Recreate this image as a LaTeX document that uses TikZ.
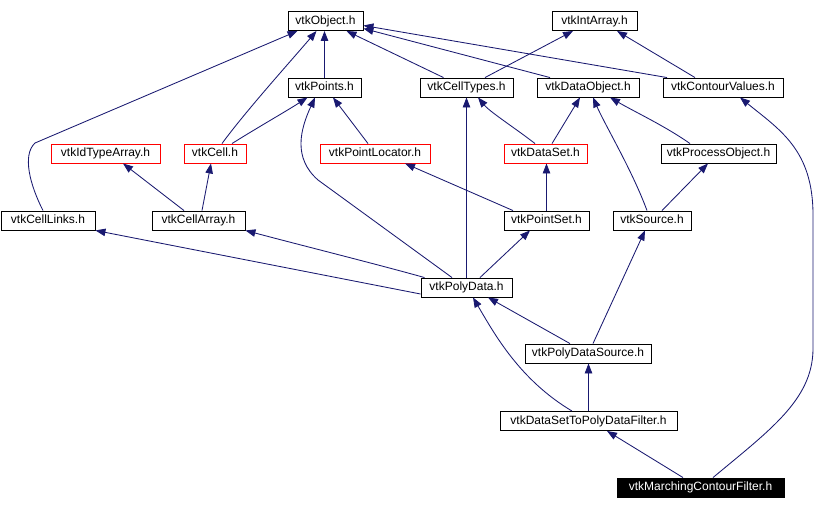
\documentclass[tikz,border=0pt]{standalone}
\usepackage{fontspec}
\setmainfont{Liberation Sans}
\usetikzlibrary{arrows.meta}
\definecolor{edgeblue}{HTML}{191970}
\tikzset{
  hdr/.style={draw=black,line width=0.9pt,fill=white,minimum height=19pt,inner sep=0pt,
    text height=8.7pt,text depth=2.6pt,font=\fontsize{12}{14}\selectfont},
  hdrred/.style={hdr,draw=red},
  hdrmain/.style={hdr,fill=black,text=white},
  inh/.style={->,draw=edgeblue,line width=0.85pt},
}
\begin{document}
\begin{tikzpicture}[x=1pt,y=-1pt,>={Triangle[length=10pt,width=7.5pt]}]
        \useasboundingbox (0,0) rectangle (829,509);
        %top row
        \node[hdr,minimum width=75pt] (obj) at (325.5,21) {vtkObject.h};
        \node[hdr,minimum width=85pt] (intarr) at (594.5,21) {vtkIntArray.h};
        %second row
        \node[hdr,minimum width=73pt] (points) at (324.5,87.5) {vtkPoints.h};
        \node[hdr,minimum width=93pt] (celltypes) at (466.5,87.5) {vtkCellTypes.h};
        \node[hdr,minimum width=102pt] (dataobj) at (588,87.5) {vtkDataObject.h};
        \node[hdr,minimum width=120pt] (contour) at (723,87.5) {vtkContourValues.h};
        %third row
        \node[hdrred,minimum width=109pt] (idtype) at (105.5,153.5) {vtkIdTypeArray.h};
        \node[hdrred,minimum width=62pt] (cell) at (215,153.5) {vtkCell.h};
        \node[hdrred,minimum width=110pt] (locator) at (375,153.5) {vtkPointLocator.h};
        \node[hdrred,minimum width=83pt] (dataset) at (545.5,153.5) {vtkDataSet.h};
        \node[hdr,minimum width=115pt] (procobj) at (718.5,153.5) {vtkProcessObject.h};
        %fourth row
        \node[hdr,minimum width=94pt] (celllinks) at (48,220.5) {vtkCellLinks.h};
        \node[hdr,minimum width=93pt] (cellarray) at (198.5,220.5) {vtkCellArray.h};
        \node[hdr,minimum width=85pt] (pointset) at (546.5,220.5) {vtkPointSet.h};
        \node[hdr,minimum width=78pt] (source) at (652,220.5) {vtkSource.h};
        %lower part
        \node[hdr,minimum width=91pt] (polydata) at (466.5,287.5) {vtkPolyData.h};
        \node[hdr,minimum width=126pt] (pdsource) at (588,353.5) {vtkPolyDataSource.h};
        \node[hdr,minimum width=177pt] (filter) at (588.5,421) {vtkDataSetToPolyDataFilter.h};
        \node[hdrmain,minimum width=167pt] (marching) at (700.5,487.5) {vtkMarchingContourFilter.h};

        %edges to vtkObject.h
        \draw[inh] ([xshift=-5pt]celllinks.north) .. controls (30,185) and (22,155) .. (35,143) -- ([xshift=-28pt]obj.south);
        \draw[inh] ([xshift=7pt]cell.north) .. controls (245,112) and (290,62) .. ([xshift=-9pt]obj.south);
        \draw[inh] (points.north) -- (points.north |- obj.south);
        \draw[inh] ([xshift=-23pt]celltypes.north) -- ([xshift=21pt]obj.south);
        \draw[inh] ([xshift=-38pt]dataobj.north) -- ([yshift=-7.5pt]obj.east);
        \draw[inh] ([xshift=-56pt]contour.north) -- ([yshift=-4.5pt]obj.east);
        %edges to vtkIntArray.h
        \draw[inh] ([xshift=18.5pt]celltypes.north) -- ([xshift=-21.5pt]intarr.south);
        \draw[inh] ([xshift=-28pt]contour.north) -- ([xshift=22.5pt]intarr.south);
        %edges to the second row
        \draw[inh] ([xshift=17pt]cell.north) .. controls (260,126) and (285,112) .. ([xshift=-17pt]points.south);
        \draw[inh] ([xshift=-7pt]locator.north) -- ([xshift=8.5pt]points.south);
        \draw[inh] ([xshift=-14.5pt]polydata.north) -- (318,180) .. controls (293,158) and (300,130) .. ([xshift=-9.5pt]points.south);
        \draw[inh] (polydata.north) -- (polydata.north |- celltypes.south);
        \draw[inh] ([xshift=-10.5pt]dataset.north) .. controls (515,128) and (490,112) .. ([xshift=11.5pt]celltypes.south);
        \draw[inh] ([xshift=6.5pt]dataset.north) -- ([xshift=-8pt]dataobj.south);
        \draw[inh] ([xshift=-5pt]source.north) .. controls (632,170) and (605,125) .. ([xshift=5pt]dataobj.south);
        \draw[inh] ([xshift=-28.5pt]procobj.north) .. controls (665,126) and (635,112) .. ([xshift=22pt]dataobj.south);
        %edges to the third row
        \draw[inh] ([xshift=-14.5pt]cellarray.north) -- ([xshift=17.5pt]idtype.south);
        \draw[inh] ([xshift=3.5pt]cellarray.north) -- ([xshift=-4pt]cell.south);
        \draw[inh] ([xshift=-33.5pt]pointset.north) -- ([xshift=30pt]locator.south);
        \draw[inh] (pointset.north) -- (pointset.north |- dataset.south);
        \draw[inh] ([xshift=10pt]source.north) -- ([xshift=-10.5pt]procobj.south);
        %edges from vtkPolyData.h
        \draw[inh] ([yshift=-6.5pt]polydata.west) -- (celllinks.south east);
        \draw[inh] ([xshift=-42pt]polydata.north) .. controls (380,265) and (300,245) .. (cellarray.south east);
        \draw[inh] ([xshift=13.5pt]polydata.north) -- ([xshift=-16.5pt]pointset.south);
        %lower edges
        \draw[inh] ([xshift=-18pt]pdsource.north) -- ([xshift=21.5pt]polydata.south);
        \draw[inh] ([xshift=5pt]pdsource.north) -- ([xshift=-7pt]source.south);
        \draw[inh] ([xshift=-16.5pt]filter.north) .. controls (520,380) and (495,335) .. ([xshift=6.5pt]polydata.south);
        \draw[inh] (filter.north) -- (filter.north |- pdsource.south);
        \draw[inh] ([xshift=-17.5pt]marching.north) -- ([xshift=18.5pt]filter.south);
        \draw[inh] ([xshift=12.5pt]marching.north) .. controls (770,430) and (812,400) .. (813,350) -- (813,215) .. controls (813,150) and (780,130) .. ([xshift=17pt]contour.south);
    \end{tikzpicture}
\end{document}
